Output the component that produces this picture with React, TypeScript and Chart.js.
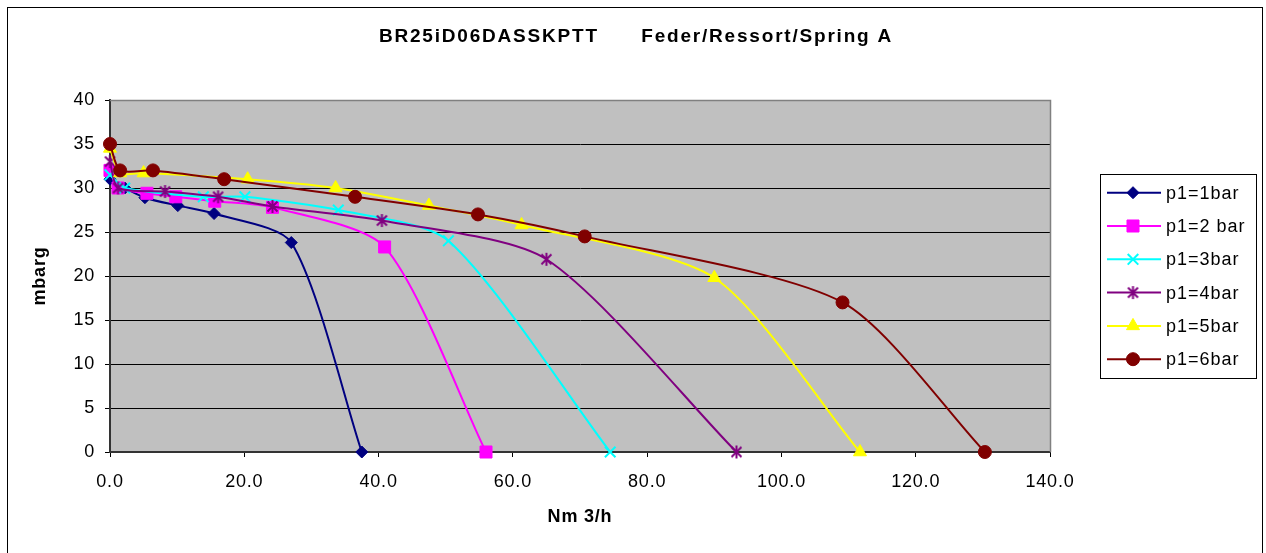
import React, { useEffect, useRef } from 'react';
import { Chart, registerables } from 'chart.js';
import { drawPoint } from 'chart.js/helpers';

Chart.register(...registerables);

const chartTitle = 'BR25iD06DASSKPTT      Feder/Ressort/Spring A';
const xAxisTitle = 'Nm 3/h';
const yAxisTitle = 'mbarg';
const seriesNames = ['p1=1bar', 'p1=2 bar', 'p1=3bar', 'p1=4bar', 'p1=5bar', 'p1=6bar'];

const flow1 = [0, 2.2, 5.2, 10.1, 15.5, 27.0, 37.5];
const press1 = [31.0, 30.0, 28.9, 28.0, 27.1, 23.8, 0];
const flow2 = [0, 1.2, 5.5, 9.8, 15.6, 24.2, 40.9, 56.0];
const press2 = [32.0, 30.0, 29.4, 29.0, 28.5, 27.8, 23.3, 0];
const flow3 = [0, 2.2, 13.9, 20.1, 34.0, 50.4, 74.5];
const press3 = [31.5, 30.0, 29.0, 29.0, 27.5, 24.0, 0];
const flow4 = [0, 1.2, 8.2, 16.1, 24.2, 40.5, 65.0, 93.3];
const press4 = [33.0, 30.0, 29.6, 29.0, 27.9, 26.3, 21.9, 0];
const flow5 = [0, 1.5, 5.0, 20.5, 33.6, 47.5, 61.3, 90.0, 111.7];
const press5 = [34.5, 31.7, 31.7, 31.0, 30.0, 28.0, 25.8, 19.8, 0];
const flow6 = [0, 1.5, 6.4, 17.0, 36.5, 54.8, 70.7, 109.1, 130.3];
const press6 = [35.0, 32.0, 32.0, 31.0, 29.0, 27.0, 24.5, 17.0, 0];

const xMin = 0;
const xMax = 140;
const xStep = 20;
const yMin = 0;
const yMax = 40;
const yStep = 5;

const colors = ['#000080', '#FF00FF', '#00FFFF', '#800080', '#FFFF00', '#800000'];
const FONT = 'Arial, "Liberation Sans", sans-serif';

export default function App() {
  const ref = useRef<HTMLCanvasElement>(null);

  useEffect(() => {
    const canvas = ref.current;
    if (!canvas) return;

    // Excel-like asterisk marker (X + vertical bar)
    const star = document.createElement('canvas');
    star.width = 15;
    star.height = 15;
    const sctx = star.getContext('2d')!;
    sctx.strokeStyle = '#800080';
    sctx.lineWidth = 2;
    sctx.beginPath();
    sctx.moveTo(2.5, 2.5); sctx.lineTo(12.5, 12.5);
    sctx.moveTo(12.5, 2.5); sctx.lineTo(2.5, 12.5);
    sctx.moveTo(7.5, 1); sctx.lineTo(7.5, 14);
    sctx.stroke();

    const flows = [flow1, flow2, flow3, flow4, flow5, flow6];
    const presses = [press1, press2, press3, press4, press5, press6];
    const styles: any[] = ['rectRot', 'rect', 'crossRot', star, 'triangle', 'circle'];
    const radii = [6, 8.5, 7.5, 7.5, 7.5, 6.5];
    const bws = [1, 1, 2, 1, 1, 1];

    const datasets = seriesNames.map((name, i) => ({
      label: name,
      data: flows[i].map((x, j) => ({ x, y: presses[i][j] })),
      borderColor: colors[i],
      backgroundColor: colors[i],
      pointBackgroundColor: colors[i],
      pointBorderColor: colors[i],
      pointStyle: styles[i],
      pointRadius: radii[i],
      pointHoverRadius: radii[i],
      pointBorderWidth: bws[i],
      borderWidth: 2,
      tension: 0.25,
      fill: false,
      clip: false as any,
      order: seriesNames.length - 1 - i,
    }));

    const decor = {
      id: 'decor',
      beforeDraw(chart: any) {
        const { ctx, chartArea: a } = chart;
        ctx.save();
        ctx.fillStyle = '#ffffff';
        ctx.fillRect(0, 0, chart.width, chart.height);
        ctx.strokeStyle = '#000';
        ctx.lineWidth = 1;
        ctx.strokeRect(7.5, 7.5, 1255, 560);
        ctx.fillStyle = '#C0C0C0';
        ctx.fillRect(a.left, a.top, a.right - a.left, a.bottom - a.top);
        ctx.restore();
        (ctx as any).letterSpacing = '0.8px';
      },
      beforeDatasetsDraw(chart: any) {
        const { ctx, chartArea: a } = chart;
        ctx.save();
        ctx.strokeStyle = '#808080';
        ctx.lineWidth = 1.5;
        ctx.beginPath();
        ctx.moveTo(a.left, a.top + 0.5);
        ctx.lineTo(a.right + 0.5, a.top + 0.5);
        ctx.lineTo(a.right + 0.5, a.bottom);
        ctx.stroke();
        ctx.restore();
      },
      afterDraw(chart: any) {
        const { ctx } = chart;
        ctx.save();
        // Title
        (ctx as any).letterSpacing = '1.8px';
        ctx.font = `bold 19px ${FONT}`;
        ctx.fillStyle = '#000';
        ctx.textAlign = 'center';
        ctx.textBaseline = 'alphabetic';
        ctx.fillText(chartTitle, 636, 42);

        // Legend
        const bx = 1100.5, by = 174.5, bw = 156, bh = 204;
        ctx.fillStyle = '#fff';
        ctx.fillRect(bx, by, bw, bh);
        ctx.strokeStyle = '#000';
        ctx.lineWidth = 1;
        ctx.strokeRect(bx, by, bw, bh);
        (ctx as any).letterSpacing = '1px';
        ctx.font = `18px ${FONT}`;
        ctx.textAlign = 'left';
        ctx.textBaseline = 'middle';
        seriesNames.forEach((name, i) => {
          const y = 192.7 + i * 33.3;
          ctx.strokeStyle = colors[i];
          ctx.lineWidth = 2;
          ctx.beginPath();
          ctx.moveTo(1107, y);
          ctx.lineTo(1161, y);
          ctx.stroke();
          ctx.fillStyle = colors[i];
          ctx.strokeStyle = colors[i];
          ctx.lineWidth = bws[i];
          drawPoint(ctx, { pointStyle: styles[i], radius: radii[i], rotation: 0, borderWidth: bws[i] } as any, 1133, y);
          ctx.fillStyle = '#000';
          ctx.fillText(name, 1166, y + 1);
        });
        ctx.restore();
      },
    };

    const chart = new Chart(canvas, {
      type: 'line',
      data: { datasets },
      options: {
        responsive: false,
        animation: false,
        devicePixelRatio: 1,
        events: [],
        layout: { padding: { left: 8, right: 216, top: 100, bottom: 0 } },
        plugins: {
          legend: { display: false },
          title: { display: false },
          tooltip: { enabled: false },
        },
        scales: {
          x: {
            type: 'linear',
            min: xMin,
            max: xMax,
            ticks: {
              stepSize: xStep,
              autoSkip: false,
              maxRotation: 0,
              padding: 14,
              color: '#000',
              font: { size: 18, family: FONT },
              callback: (v: any) => Number(v).toFixed(1),
            },
            grid: { drawOnChartArea: false, drawTicks: true, tickLength: 5, color: '#000' },
            border: { color: '#333', width: 2 },
            title: {
              display: true,
              text: xAxisTitle,
              color: '#000',
              font: { size: 18, weight: 'bold', family: FONT },
              padding: { top: 0, bottom: 25 },
            },
            afterFit: (s: any) => { s.height = 101; },
          },
          y: {
            type: 'linear',
            min: yMin,
            max: yMax,
            ticks: {
              stepSize: yStep,
              padding: 10,
              color: '#000',
              font: { size: 18, family: FONT },
            },
            grid: { color: '#000', tickLength: 5, drawTicks: true },
            border: { color: '#333', width: 2 },
            title: {
              display: true,
              text: yAxisTitle,
              color: '#000',
              font: { size: 18, weight: 'bold', family: FONT },
              padding: { top: 21, bottom: 0 },
            },
            afterFit: (s: any) => { s.width = 102; },
          },
        },
      } as any,
      plugins: [decor],
    });

    return () => chart.destroy();
  }, []);

  return (
    <div style={{ position: 'fixed', left: 0, top: 0, width: 1266, height: 553, background: '#fff' }}>
      <canvas ref={ref} width={1266} height={553} style={{ display: 'block', width: 1266, height: 553 }} />
    </div>
  );
}
